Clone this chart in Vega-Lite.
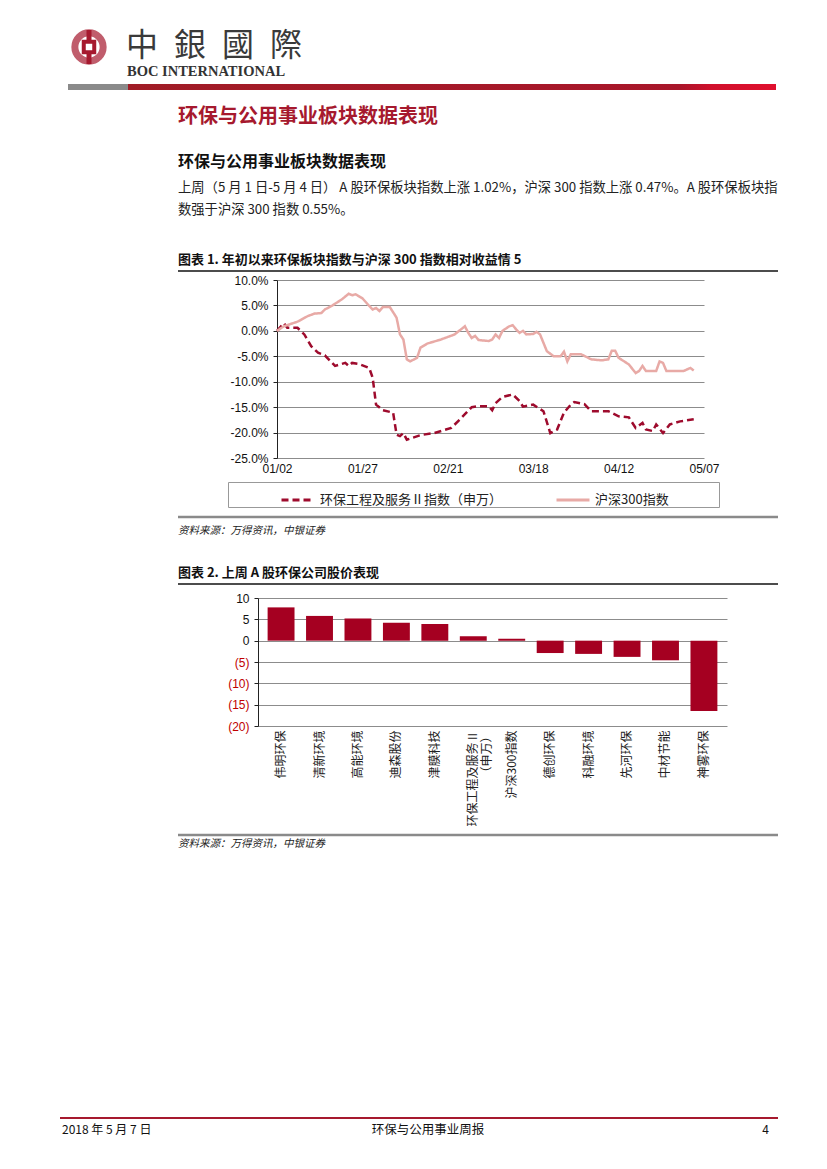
{
  "$schema": "https://vega.github.io/schema/vega-lite/v6.json",
  "background": "white",
  "padding": 0,
  "spacing": 0,
  "bounds": "flush",
  "config": {
    "font": "Noto Sans CJK SC",
    "view": {"stroke": null},
    "axis": {"labelFont": "Liberation Sans"}
  },
  "vconcat": [
    {
      "width": 827,
      "height": 280,
      "data": {"values": [{}]},
      "layer": [
        {"mark": {"type": "point", "shape": "circle", "filled": false, "stroke": "#a6192e", "strokeWidth": 7, "size": 800}, "encoding": {"x": {"value": 89}, "y": {"value": 47}}},
        {"mark": {"type": "rule", "stroke": "#a6192e", "strokeWidth": 5}, "encoding": {"x": {"value": 89}, "y": {"value": 30}, "y2": {"value": 64}}},
        {"mark": {"type": "point", "shape": "square", "filled": false, "fill": "white", "fillOpacity": 1, "stroke": "#a6192e", "strokeWidth": 4, "size": 110}, "encoding": {"x": {"value": 89}, "y": {"value": 47}}},
        {"mark": {"type": "text", "text": "中\u2002銀\u2002國\u2002際", "font": "Noto Sans CJK TC", "fontSize": 32, "align": "left", "baseline": "middle", "color": "#3a3a3a"}, "encoding": {"x": {"value": 126}, "y": {"value": 46}}},
        {"mark": {"type": "text", "text": "BOC INTERNATIONAL", "font": "Liberation Serif", "fontWeight": "bold", "fontSize": 14.5, "align": "left", "baseline": "middle", "color": "#333333"}, "encoding": {"x": {"value": 127}, "y": {"value": 72}}},
        {"mark": {"type": "rect", "color": "#8a8a8a"}, "encoding": {"x": {"value": 68}, "x2": {"value": 128}, "y": {"value": 84}, "y2": {"value": 90}}},
        {"mark": {"type": "rect", "color": {"gradient": "linear", "x1": 0, "x2": 1, "y1": 0, "y2": 0, "stops": [{"offset": 0, "color": "#a01c26"}, {"offset": 0.85, "color": "#a8162a"}, {"offset": 0.9, "color": "#d0102c"}, {"offset": 1, "color": "#e0102e"}]}}, "encoding": {"x": {"value": 128}, "x2": {"value": 776}, "y": {"value": 84}, "y2": {"value": 90}}},
        {"mark": {"type": "text", "text": "环保与公用事业板块数据表现", "fontSize": 20, "fontWeight": "bold", "align": "left", "baseline": "middle", "color": "#a6192e"}, "encoding": {"x": {"value": 178}, "y": {"value": 117}}},
        {"mark": {"type": "text", "text": "环保与公用事业板块数据表现", "fontSize": 16, "fontWeight": "bold", "align": "left", "baseline": "middle", "color": "#111111"}, "encoding": {"x": {"value": 178}, "y": {"value": 162}}},
        {"mark": {"type": "text", "text": "上周（5 月 1 日-5 月 4 日） A 股环保板块指数上涨 1.02%，沪深 300 指数上涨 0.47%。A 股环保板块指", "fontSize": 13.3, "align": "left", "baseline": "middle", "color": "#222222"}, "encoding": {"x": {"value": 178}, "y": {"value": 188}}},
        {"mark": {"type": "text", "text": "数强于沪深 300 指数 0.55%。", "fontSize": 13.3, "align": "left", "baseline": "middle", "color": "#222222"}, "encoding": {"x": {"value": 178}, "y": {"value": 210}}},
        {"mark": {"type": "text", "text": "图表 1. 年初以来环保板块指数与沪深 300 指数相对收益情 5", "fontSize": 13, "fontWeight": "bold", "align": "left", "baseline": "middle", "color": "#111111"}, "encoding": {"x": {"value": 178}, "y": {"value": 260}}},
        {"mark": {"type": "rule", "stroke": "#111111", "strokeWidth": 1.5}, "encoding": {"x": {"value": 178}, "x2": {"value": 778}, "y": {"value": 271}}}
      ]
    },
    {
      "width": 827,
      "height": 178,
      "data": {"values": [
        {"d": "2018-01-02", "s": "环保工程及服务Ⅱ指数（申万）", "v": 0},
        {"d": "2018-01-04", "s": "环保工程及服务Ⅱ指数（申万）", "v": 1.5},
        {"d": "2018-01-05", "s": "环保工程及服务Ⅱ指数（申万）", "v": 0.6},
        {"d": "2018-01-08", "s": "环保工程及服务Ⅱ指数（申万）", "v": 0.6},
        {"d": "2018-01-10", "s": "环保工程及服务Ⅱ指数（申万）", "v": -0.7},
        {"d": "2018-01-12", "s": "环保工程及服务Ⅱ指数（申万）", "v": -3.0},
        {"d": "2018-01-14", "s": "环保工程及服务Ⅱ指数（申万）", "v": -4.3},
        {"d": "2018-01-16", "s": "环保工程及服务Ⅱ指数（申万）", "v": -4.8},
        {"d": "2018-01-19", "s": "环保工程及服务Ⅱ指数（申万）", "v": -6.9},
        {"d": "2018-01-22", "s": "环保工程及服务Ⅱ指数（申万）", "v": -6.3},
        {"d": "2018-01-23", "s": "环保工程及服务Ⅱ指数（申万）", "v": -6.9},
        {"d": "2018-01-24", "s": "环保工程及服务Ⅱ指数（申万）", "v": -6.3},
        {"d": "2018-01-26", "s": "环保工程及服务Ⅱ指数（申万）", "v": -6.5},
        {"d": "2018-01-29", "s": "环保工程及服务Ⅱ指数（申万）", "v": -7.3},
        {"d": "2018-01-30", "s": "环保工程及服务Ⅱ指数（申万）", "v": -9.2},
        {"d": "2018-01-31", "s": "环保工程及服务Ⅱ指数（申万）", "v": -14.5},
        {"d": "2018-02-02", "s": "环保工程及服务Ⅱ指数（申万）", "v": -15.6},
        {"d": "2018-02-05", "s": "环保工程及服务Ⅱ指数（申万）", "v": -16.1},
        {"d": "2018-02-06", "s": "环保工程及服务Ⅱ指数（申万）", "v": -20.4},
        {"d": "2018-02-07", "s": "环保工程及服务Ⅱ指数（申万）", "v": -20.7},
        {"d": "2018-02-08", "s": "环保工程及服务Ⅱ指数（申万）", "v": -20.1},
        {"d": "2018-02-09", "s": "环保工程及服务Ⅱ指数（申万）", "v": -21.4},
        {"d": "2018-02-13", "s": "环保工程及服务Ⅱ指数（申万）", "v": -20.5},
        {"d": "2018-02-17", "s": "环保工程及服务Ⅱ指数（申万）", "v": -20.1},
        {"d": "2018-02-22", "s": "环保工程及服务Ⅱ指数（申万）", "v": -19.1},
        {"d": "2018-02-25", "s": "环保工程及服务Ⅱ指数（申万）", "v": -17.1},
        {"d": "2018-02-28", "s": "环保工程及服务Ⅱ指数（申万）", "v": -15.0},
        {"d": "2018-03-02", "s": "环保工程及服务Ⅱ指数（申万）", "v": -14.8},
        {"d": "2018-03-05", "s": "环保工程及服务Ⅱ指数（申万）", "v": -14.8},
        {"d": "2018-03-06", "s": "环保工程及服务Ⅱ指数（申万）", "v": -15.6},
        {"d": "2018-03-07", "s": "环保工程及服务Ⅱ指数（申万）", "v": -14.2},
        {"d": "2018-03-09", "s": "环保工程及服务Ⅱ指数（申万）", "v": -13.0},
        {"d": "2018-03-12", "s": "环保工程及服务Ⅱ指数（申万）", "v": -12.5},
        {"d": "2018-03-14", "s": "环保工程及服务Ⅱ指数（申万）", "v": -13.8},
        {"d": "2018-03-15", "s": "环保工程及服务Ⅱ指数（申万）", "v": -14.9},
        {"d": "2018-03-18", "s": "环保工程及服务Ⅱ指数（申万）", "v": -14.5},
        {"d": "2018-03-21", "s": "环保工程及服务Ⅱ指数（申万）", "v": -15.8},
        {"d": "2018-03-23", "s": "环保工程及服务Ⅱ指数（申万）", "v": -20.1},
        {"d": "2018-03-25", "s": "环保工程及服务Ⅱ指数（申万）", "v": -19.4},
        {"d": "2018-03-27", "s": "环保工程及服务Ⅱ指数（申万）", "v": -16.1},
        {"d": "2018-03-29", "s": "环保工程及服务Ⅱ指数（申万）", "v": -14.5},
        {"d": "2018-03-30", "s": "环保工程及服务Ⅱ指数（申万）", "v": -14.0},
        {"d": "2018-04-02", "s": "环保工程及服务Ⅱ指数（申万）", "v": -14.4},
        {"d": "2018-04-04", "s": "环保工程及服务Ⅱ指数（申万）", "v": -15.8},
        {"d": "2018-04-09", "s": "环保工程及服务Ⅱ指数（申万）", "v": -15.8},
        {"d": "2018-04-12", "s": "环保工程及服务Ⅱ指数（申万）", "v": -16.8},
        {"d": "2018-04-15", "s": "环保工程及服务Ⅱ指数（申万）", "v": -17.0},
        {"d": "2018-04-17", "s": "环保工程及服务Ⅱ指数（申万）", "v": -19.1},
        {"d": "2018-04-19", "s": "环保工程及服务Ⅱ指数（申万）", "v": -18.1},
        {"d": "2018-04-20", "s": "环保工程及服务Ⅱ指数（申万）", "v": -19.4},
        {"d": "2018-04-22", "s": "环保工程及服务Ⅱ指数（申万）", "v": -19.7},
        {"d": "2018-04-23", "s": "环保工程及服务Ⅱ指数（申万）", "v": -18.4},
        {"d": "2018-04-25", "s": "环保工程及服务Ⅱ指数（申万）", "v": -20.1},
        {"d": "2018-04-27", "s": "环保工程及服务Ⅱ指数（申万）", "v": -18.4},
        {"d": "2018-04-30", "s": "环保工程及服务Ⅱ指数（申万）", "v": -17.8},
        {"d": "2018-05-04", "s": "环保工程及服务Ⅱ指数（申万）", "v": -17.4},
        {"d": "2018-01-02", "s": "沪深300指数", "v": 0},
        {"d": "2018-01-04", "s": "沪深300指数", "v": 0.9},
        {"d": "2018-01-08", "s": "沪深300指数", "v": 1.8},
        {"d": "2018-01-11", "s": "沪深300指数", "v": 2.9},
        {"d": "2018-01-13", "s": "沪深300指数", "v": 3.4},
        {"d": "2018-01-15", "s": "沪深300指数", "v": 3.5},
        {"d": "2018-01-16", "s": "沪深300指数", "v": 4.2},
        {"d": "2018-01-18", "s": "沪深300指数", "v": 4.9},
        {"d": "2018-01-21", "s": "沪深300指数", "v": 6.2},
        {"d": "2018-01-23", "s": "沪深300指数", "v": 7.3},
        {"d": "2018-01-24", "s": "沪深300指数", "v": 7.0},
        {"d": "2018-01-25", "s": "沪深300指数", "v": 7.2},
        {"d": "2018-01-27", "s": "沪深300指数", "v": 6.4},
        {"d": "2018-01-29", "s": "沪深300指数", "v": 4.9},
        {"d": "2018-01-30", "s": "沪深300指数", "v": 4.2},
        {"d": "2018-01-31", "s": "沪深300指数", "v": 4.5},
        {"d": "2018-02-01", "s": "沪深300指数", "v": 3.9},
        {"d": "2018-02-02", "s": "沪深300指数", "v": 4.7},
        {"d": "2018-02-04", "s": "沪深300指数", "v": 4.7},
        {"d": "2018-02-06", "s": "沪深300指数", "v": 2.6},
        {"d": "2018-02-07", "s": "沪深300指数", "v": -0.7},
        {"d": "2018-02-08", "s": "沪深300指数", "v": -1.7},
        {"d": "2018-02-09", "s": "沪深300指数", "v": -5.6},
        {"d": "2018-02-10", "s": "沪深300指数", "v": -6.0},
        {"d": "2018-02-12", "s": "沪深300指数", "v": -5.3},
        {"d": "2018-02-13", "s": "沪深300指数", "v": -3.3},
        {"d": "2018-02-15", "s": "沪深300指数", "v": -2.5},
        {"d": "2018-02-19", "s": "沪深300指数", "v": -1.7},
        {"d": "2018-02-23", "s": "沪深300指数", "v": -0.7},
        {"d": "2018-02-26", "s": "沪深300指数", "v": 0.9},
        {"d": "2018-02-27", "s": "沪深300指数", "v": -0.4},
        {"d": "2018-02-28", "s": "沪深300指数", "v": -1.4},
        {"d": "2018-03-01", "s": "沪深300指数", "v": -1.0},
        {"d": "2018-03-02", "s": "沪深300指数", "v": -1.8},
        {"d": "2018-03-05", "s": "沪深300指数", "v": -2.0},
        {"d": "2018-03-06", "s": "沪深300指数", "v": -1.7},
        {"d": "2018-03-07", "s": "沪深300指数", "v": -0.7},
        {"d": "2018-03-08", "s": "沪深300指数", "v": -1.4},
        {"d": "2018-03-09", "s": "沪深300指数", "v": 0.0},
        {"d": "2018-03-11", "s": "沪深300指数", "v": 0.9},
        {"d": "2018-03-12", "s": "沪深300指数", "v": 1.1},
        {"d": "2018-03-13", "s": "沪深300指数", "v": 0.3},
        {"d": "2018-03-14", "s": "沪深300指数", "v": -0.4},
        {"d": "2018-03-15", "s": "沪深300指数", "v": 0.0},
        {"d": "2018-03-16", "s": "沪深300指数", "v": -0.7},
        {"d": "2018-03-18", "s": "沪深300指数", "v": -0.6},
        {"d": "2018-03-19", "s": "沪深300指数", "v": -0.2},
        {"d": "2018-03-20", "s": "沪深300指数", "v": -0.7},
        {"d": "2018-03-22", "s": "沪深300指数", "v": -4.0},
        {"d": "2018-03-24", "s": "沪深300指数", "v": -5.0},
        {"d": "2018-03-26", "s": "沪深300指数", "v": -5.0},
        {"d": "2018-03-27", "s": "沪深300指数", "v": -4.1},
        {"d": "2018-03-28", "s": "沪深300指数", "v": -6.0},
        {"d": "2018-03-29", "s": "沪深300指数", "v": -4.6},
        {"d": "2018-04-01", "s": "沪深300指数", "v": -4.6},
        {"d": "2018-04-04", "s": "沪深300指数", "v": -5.6},
        {"d": "2018-04-07", "s": "沪深300指数", "v": -5.8},
        {"d": "2018-04-09", "s": "沪深300指数", "v": -5.6},
        {"d": "2018-04-10", "s": "沪深300指数", "v": -3.9},
        {"d": "2018-04-11", "s": "沪深300指数", "v": -3.9},
        {"d": "2018-04-12", "s": "沪深300指数", "v": -5.3},
        {"d": "2018-04-15", "s": "沪深300指数", "v": -6.6},
        {"d": "2018-04-17", "s": "沪深300指数", "v": -8.3},
        {"d": "2018-04-18", "s": "沪深300指数", "v": -7.9},
        {"d": "2018-04-19", "s": "沪深300指数", "v": -6.9},
        {"d": "2018-04-20", "s": "沪深300指数", "v": -7.9},
        {"d": "2018-04-23", "s": "沪深300指数", "v": -7.9},
        {"d": "2018-04-24", "s": "沪深300指数", "v": -6.0},
        {"d": "2018-04-25", "s": "沪深300指数", "v": -6.3},
        {"d": "2018-04-26", "s": "沪深300指数", "v": -7.9},
        {"d": "2018-05-01", "s": "沪深300指数", "v": -7.9},
        {"d": "2018-05-03", "s": "沪深300指数", "v": -7.3},
        {"d": "2018-05-04", "s": "沪深300指数", "v": -7.8}
      ]},
      "mark": {"type": "line", "strokeWidth": 2.5},
      "encoding": {
        "x": {
          "field": "d", "type": "temporal",
          "scale": {"type": "utc", "nice": false, "range": [277, 704], "domain": [{"year": 2018, "month": 1, "date": 2, "utc": true}, {"year": 2018, "month": 5, "date": 7, "utc": true}]},
          "axis": {
            "values": [
              {"year": 2018, "month": 1, "date": 2, "utc": true},
              {"year": 2018, "month": 1, "date": 27, "utc": true},
              {"year": 2018, "month": 2, "date": 21, "utc": true},
              {"year": 2018, "month": 3, "date": 18, "utc": true},
              {"year": 2018, "month": 4, "date": 12, "utc": true},
              {"year": 2018, "month": 5, "date": 7, "utc": true}
            ],
            "format": "%m/%d", "title": null, "ticks": false, "domain": false, "grid": false,
            "labelFontSize": 12, "labelColor": "#111111", "labelPadding": 5, "labelFlush": false
          }
        },
        "y": {
          "field": "v", "type": "quantitative",
          "scale": {"domain": [-25, 10], "nice": false},
          "axis": {
            "values": [10, 5, 0, -5, -10, -15, -20, -25],
            "labelExpr": "replace(format(datum.value, '.1f'), '\u2212', '-') + '%'",
            "offset": -277,
            "title": null, "grid": true, "gridColor": "#8c8c8c", "gridWidth": 1,
            "domainColor": "#222222", "tickColor": "#222222", "tickSize": 4,
            "labelFontSize": 12, "labelColor": "#111111", "labelPadding": 5
          }
        },
        "color": {
          "field": "s", "type": "nominal",
          "scale": {"domain": ["环保工程及服务Ⅱ指数（申万）", "沪深300指数"], "range": ["#9e0b2d", "#e8aaa6"]},
          "legend": {"orient": "none", "legendX": 228, "legendY": 482, "direction": "horizontal", "title": null, "symbolType": "stroke", "symbolSize": 1089, "symbolStrokeWidth": 3, "labelFontSize": 13, "labelFont": "Noto Sans CJK SC", "labelColor": "#222222", "labelLimit": 0, "columnPadding": 0, "padding": 0, "strokeColor": "#999999", "symbolOffset": 52, "labelOffset": 4, "labelExpr": "datum.label == '沪深300指数' ? datum.label + '\u2800\u2800\u2800\u2800\u2800' : datum.label"}
        },
        "strokeDash": {
          "field": "s", "type": "nominal",
          "scale": {"domain": ["环保工程及服务Ⅱ指数（申万）", "沪深300指数"], "range": [[7, 4], [1, 0]]},
          "legend": {"orient": "none", "legendX": 228, "legendY": 482, "direction": "horizontal", "title": null, "symbolType": "stroke", "symbolSize": 1089, "symbolStrokeWidth": 3, "labelFontSize": 13, "labelFont": "Noto Sans CJK SC", "labelColor": "#222222", "labelLimit": 0, "columnPadding": 0, "padding": 0, "strokeColor": "#999999", "symbolOffset": 52, "labelOffset": 4, "labelExpr": "datum.label == '沪深300指数' ? datum.label + '\u2800\u2800\u2800\u2800\u2800' : datum.label"}
        }
      }
    },
    {
      "width": 827,
      "height": 140,
      "data": {"values": [{}]},
      "layer": [
        {"mark": {"type": "rule", "stroke": "#8a8a8a", "strokeWidth": 2.5}, "encoding": {"x": {"value": 178}, "x2": {"value": 778}, "y": {"value": 59}}},
        {"mark": {"type": "text", "text": "资料来源：万得资讯，中银证券", "fontSize": 10.5, "fontStyle": "italic", "align": "left", "baseline": "middle", "color": "#222222"}, "encoding": {"x": {"value": 178}, "y": {"value": 73}}},
        {"mark": {"type": "text", "text": "图表 2. 上周 A 股环保公司股价表现", "fontSize": 13, "fontWeight": "bold", "align": "left", "baseline": "middle", "color": "#111111"}, "encoding": {"x": {"value": 178}, "y": {"value": 115}}},
        {"mark": {"type": "rule", "stroke": "#111111", "strokeWidth": 1.5}, "encoding": {"x": {"value": 178}, "x2": {"value": 778}, "y": {"value": 126}}}
      ]
    },
    {
      "width": 827,
      "height": 128,
      "data": {"values": [
        {"n": "伟明环保", "v": 7.8},
        {"n": "清新环境", "v": 5.8},
        {"n": "高能环境", "v": 5.2},
        {"n": "迪森股份", "v": 4.2},
        {"n": "津膜科技", "v": 3.9},
        {"n": "环保工程及服务Ⅱ（申万）", "v": 1.02},
        {"n": "沪深300指数", "v": 0.47},
        {"n": "德创环保", "v": -2.9},
        {"n": "科融环境", "v": -3.1},
        {"n": "先河环保", "v": -3.8},
        {"n": "中材节能", "v": -4.6},
        {"n": "神雾环保", "v": -16.5}
      ]},
      "mark": {"type": "bar", "color": "#a50021"},
      "encoding": {
        "x": {
          "field": "n", "type": "nominal", "sort": null,
          "scale": {"range": [258, 727], "paddingInner": 0.3, "paddingOuter": 0.25},
          "axis": {"title": null, "labelAngle": -90, "ticks": false, "domain": false, "labelFont": "Noto Sans CJK SC", "labelFontSize": 12, "labelColor": "#222222", "labelPadding": 4,
            "labelExpr": "datum.label == '环保工程及服务Ⅱ（申万）' ? ['环保工程及服务Ⅱ', '（申万）'] : datum.label"}
        },
        "y": {
          "field": "v", "type": "quantitative",
          "scale": {"domain": [-20, 10], "nice": false},
          "axis": {
            "values": [10, 5, 0, -5, -10, -15, -20],
            "labelExpr": "datum.value < 0 ? '(' + (-datum.value) + ')' : '' + datum.value",
            "labelColor": {"condition": {"test": "datum.value < 0", "value": "#c00000"}, "value": "#111111"},
            "offset": -258,
            "title": null, "grid": true, "gridColor": "#8c8c8c", "gridWidth": 1,
            "domainColor": "#222222", "tickColor": "#222222", "tickSize": 4,
            "labelFontSize": 12, "labelPadding": 5
          }
        }
      }
    },
    {
      "width": 827,
      "height": 443,
      "data": {"values": [{}]},
      "layer": [
        {"mark": {"type": "rule", "stroke": "#8a8a8a", "strokeWidth": 2.5}, "encoding": {"x": {"value": 178}, "x2": {"value": 778}, "y": {"value": 109}}},
        {"mark": {"type": "text", "text": "资料来源：万得资讯，中银证券", "fontSize": 10.5, "fontStyle": "italic", "align": "left", "baseline": "middle", "color": "#222222"}, "encoding": {"x": {"value": 178}, "y": {"value": 118}}},
        {"mark": {"type": "rule", "stroke": "#a6192e", "strokeWidth": 2}, "encoding": {"x": {"value": 60}, "x2": {"value": 778}, "y": {"value": 392}}},
        {"mark": {"type": "text", "text": "2018 年 5 月 7 日", "fontSize": 12, "align": "left", "baseline": "middle", "color": "#111111"}, "encoding": {"x": {"value": 62}, "y": {"value": 404}}},
        {"mark": {"type": "text", "text": "环保与公用事业周报", "fontSize": 12.5, "align": "center", "baseline": "middle", "color": "#111111"}, "encoding": {"x": {"value": 428}, "y": {"value": 404}}},
        {"mark": {"type": "text", "text": "4", "fontSize": 12, "align": "right", "baseline": "middle", "color": "#111111"}, "encoding": {"x": {"value": 769}, "y": {"value": 404}}}
      ]
    }
  ]
}
